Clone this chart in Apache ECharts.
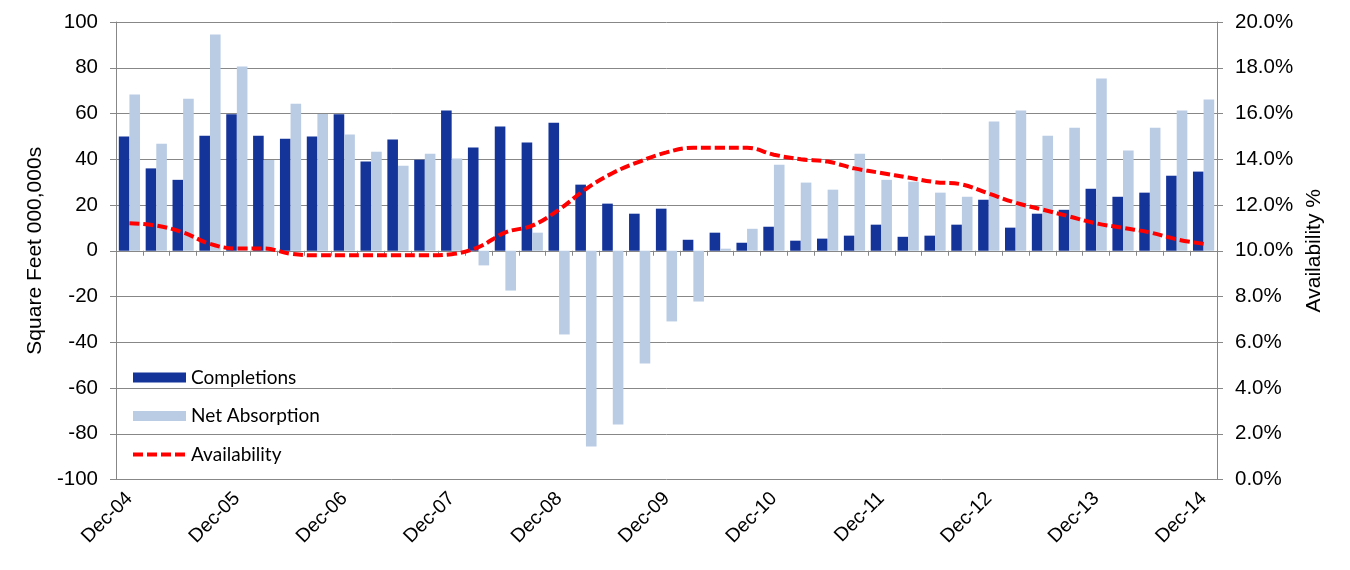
<!DOCTYPE html>
<html>
<head>
<meta charset="utf-8">
<script src="https://cdn.jsdelivr.net/npm/echarts@6/dist/echarts.min.js"></script>
<style>
html,body{margin:0;padding:0;background:#fff;}
#chart{width:1350px;height:570px;}
</style>
</head>
<body>
<div id="chart"></div>
<script>
var quarters = [
 'Dec-04','Mar-05','Jun-05','Sep-05','Dec-05','Mar-06','Jun-06','Sep-06','Dec-06','Mar-07','Jun-07','Sep-07',
 'Dec-07','Mar-08','Jun-08','Sep-08','Dec-08','Mar-09','Jun-09','Sep-09','Dec-09','Mar-10','Jun-10','Sep-10',
 'Dec-10','Mar-11','Jun-11','Sep-11','Dec-11','Mar-12','Jun-12','Sep-12','Dec-12','Mar-13','Jun-13','Sep-13',
 'Dec-13','Mar-14','Jun-14','Sep-14','Dec-14'
];
var completions = [
 50, 36, 31, 50.3, 59.7, 50.3, 49, 50, 59.7, 39, 48.6, 39.8,
 61.3, 45.1, 54.3, 47.3, 56, 28.9, 20.6, 16.2, 18.4, 4.8, 7.9, 3.5,
 10.5, 4.4, 5.3, 6.6, 11.4, 6.1, 6.6, 11.4, 22.3, 10.1, 16.2, 17.9,
 27.1, 23.6, 25.4, 32.8, 34.6
];
var netAbsorption = [
 68.3, 46.8, 66.5, 94.5, 80.5, 39.7, 64.3, 59.8, 50.8, 43.3, 37.2, 42.4,
 40.3, -6.4, -17.4, 7.9, -36.6, -85.6, -76, -49.3, -30.9, -22.2, 0.9, 9.6,
 37.6, 29.8, 26.7, 42.4, 31, 30.2, 25.4, 23.6, 56.5, 61.3, 50.3, 53.8,
 75.3, 43.8, 53.8, 61.3, 66.1
];
var availability = [
 11.2, 11.1, 10.8, 10.3, 10.1, 10.1, 9.87, 9.8, 9.8, 9.8, 9.8, 9.8,
 9.85, 10.16, 10.8, 11.1, 11.8, 12.7, 13.4, 13.9, 14.3, 14.5, 14.5, 14.5,
 14.2, 14.0, 13.9, 13.6, 13.4, 13.2, 13.0, 12.9, 12.5, 12.1, 11.8, 11.5,
 11.2, 11.0, 10.8, 10.5, 10.3
];

var chart = echarts.init(document.getElementById('chart'));
var FONT = '"Liberation Sans", Arial, sans-serif';
var GRID_COLOR = '#878787';

chart.setOption({
  animation: false,
  backgroundColor: '#ffffff',
  grid: { left: 116, right: 133, top: 22, bottom: 90.5, containLabel: false },
  legend: {
    orient: 'vertical',
    left: 126,
    top: 363,
    itemWidth: 53,
    itemHeight: 10,
    itemGap: 19.5,
    textStyle: { fontFamily: 'Lato, "Open Sans", sans-serif', fontSize: 19, color: '#000' },
    data: [
      { name: 'Completions', icon: 'rect' },
      { name: 'Net Absorption', icon: 'rect' },
      { name: 'Availability', itemStyle: { opacity: 0 }, lineStyle: { width: 4, type: [10, 4], color: '#ff0000' } }
    ]
  },
  xAxis: [
    {
      type: 'category',
      data: quarters,
      position: 'bottom',
      axisLine: { onZero: true, lineStyle: { color: GRID_COLOR, width: 1 } },
      axisTick: { show: true, interval: 0, length: 5, lineStyle: { color: GRID_COLOR } },
      axisLabel: { show: false },
      splitLine: { show: false }
    },
    {
      type: 'category',
      data: quarters,
      position: 'bottom',
      axisLine: { show: false, onZero: false },
      axisTick: { show: false },
      axisLabel: {
        show: true,
        interval: 3,
        rotate: 45,
        margin: 16,
        fontFamily: FONT,
        fontSize: 19.5,
        color: '#000'
      },
      splitLine: { show: false }
    }
  ],
  yAxis: [
    {
      type: 'value',
      min: -100,
      max: 100,
      interval: 20,
      position: 'left',
      name: 'Square Feet 000,000s',
      nameLocation: 'middle',
      nameGap: 66,
      nameRotate: 90,
      nameTextStyle: { fontFamily: FONT, fontSize: 21, color: '#000' },
      axisLine: { show: true, lineStyle: { color: GRID_COLOR } },
      axisTick: { show: true, length: 6, lineStyle: { color: GRID_COLOR } },
      axisLabel: { fontFamily: FONT, fontSize: 20.5, color: '#000', margin: 18 },
      splitLine: { show: true, lineStyle: { color: GRID_COLOR, width: 1 } }
    },
    {
      type: 'value',
      min: 0,
      max: 20,
      interval: 2,
      position: 'right',
      name: 'Availability %',
      nameLocation: 'middle',
      nameGap: 86,
      nameRotate: 90,
      nameTextStyle: { fontFamily: FONT, fontSize: 21, color: '#000' },
      axisLine: { show: true, lineStyle: { color: GRID_COLOR } },
      axisTick: { show: true, length: 6, lineStyle: { color: GRID_COLOR } },
      axisLabel: {
        fontFamily: FONT, fontSize: 20.5, color: '#000', margin: 18,
        formatter: function (v) { return v.toFixed(1) + '%'; }
      },
      splitLine: { show: false }
    }
  ],
  series: [
    {
      name: 'Completions',
      type: 'bar',
      xAxisIndex: 0,
      yAxisIndex: 0,
      data: completions,
      barGap: '0%',
      barCategoryGap: '21%',
      itemStyle: { color: '#15349a' }
    },
    {
      name: 'Net Absorption',
      type: 'bar',
      xAxisIndex: 0,
      yAxisIndex: 0,
      data: netAbsorption,
      barGap: '0%',
      barCategoryGap: '21%',
      itemStyle: { color: '#b9cce4' }
    },
    {
      name: 'Availability',
      type: 'line',
      xAxisIndex: 0,
      yAxisIndex: 1,
      data: availability,
      smooth: 0.4,
      symbol: 'none',
      lineStyle: { color: '#ff0000', width: 4, type: [10, 4] },
      itemStyle: { color: '#ff0000' },
      z: 5
    }
  ]
});
</script>
</body>
</html>
